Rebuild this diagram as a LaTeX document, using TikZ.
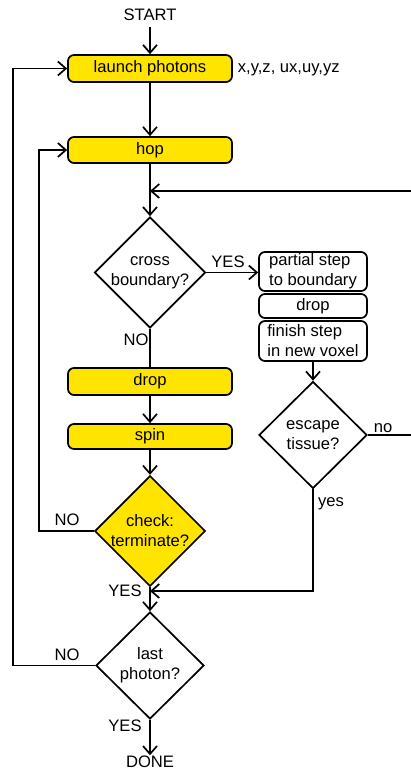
\documentclass[tikz,border=0pt]{standalone}
\usepackage{fontspec}
\setmainfont{Liberation Sans}
\usetikzlibrary{shapes.geometric,arrows.meta}
\definecolor{fcyellow}{RGB}{255,228,0}
\begin{document}
\begin{tikzpicture}[x=1pt,y=-1pt,
  font=\fontsize{16.6}{20}\selectfont,
  line width=1.7pt,
  arr/.style={-{Straight Barb[length=8pt,width=14pt]}},
  ybox/.style={draw,fill=fcyellow,rounded corners=6pt,minimum width=164pt,inner sep=0pt},
  wbox/.style={draw,fill=white,rounded corners=6pt,minimum width=108pt,inner sep=0pt},
  dia/.style={draw,diamond,fill=white,minimum width=108pt,minimum height=107pt,inner sep=0pt,align=center},
  lbl/.style={inner sep=0pt}
]
\useasboundingbox (0,0) rectangle (411,771);
\node[lbl] (start) at (150,15) {START};
\node[ybox,minimum height=27pt] (launch) at (150,68.5) {launch photons};
\node[lbl,anchor=west] (xyz) at (237,70) {x,y,z, ux,uy,yz};
\node[ybox,minimum height=26pt] (hop) at (150,150) {hop};
\node[dia] (cross) at (150,272.5) {cross\\boundary?};
\node[wbox,minimum height=39pt,align=left] (partial) at (313,271.5) {partial step\\to boundary};
\node[wbox,minimum height=24pt] (drop2) at (313,306) {drop};
\node[wbox,minimum height=40pt,align=left] (finish) at (313,341) {finish step\\in new voxel};
\node[dia] (escape) at (313,435) {escape\\tissue?};
\node[ybox,minimum height=27pt] (drop) at (150,381.5) {drop};
\node[ybox,minimum height=25pt] (spin) at (150,436.5) {spin};
\node[dia,fill=fcyellow] (check) at (150,531) {check:\\terminate?};
\node[dia] (last) at (150,665.5) {last\\photon?};
\node[lbl] (done) at (150,762) {DONE};

\coordinate (rin) at (411,191);
\coordinate (rout) at (411,435);
\coordinate (join) at (150,591);

\node[lbl] (lyes1) at (228,262) {YES};
\node[lbl] (lno1) at (136,340) {NO};
\node[lbl] (lno2) at (383,428) {no};
\node[lbl] (lyes2) at (331,504) {yes};
\node[lbl] (lno3) at (67,520) {NO};
\node[lbl] (lyes3) at (125,591) {YES};
\node[lbl] (lno4) at (67,655) {NO};
\node[lbl] (lyes4) at (125,726) {YES};

\draw[arr] (start.south) ++(0,5) -- (launch.north);
\draw[arr] (launch.south) -- (hop.north);
\draw[arr] (hop.south) -- (cross.north);
\draw[arr] (rin) -- (hop.south |- rin);
\draw[arr] (cross.east) -- (partial.west |- cross.east);
\draw (cross.south) -- (drop.north);
\draw[arr] (finish.south) -- (escape.north);
\draw (escape.east) -- (rout);
\draw[arr] (escape.south) |- (join);
\draw[arr] (drop.south) -- (spin.north);
\draw[arr] (spin.south) -- (check.north);
\draw[arr] (check.west) -- ++(-55,0) |- (hop.west);
\draw[arr] (check.south) -- (last.north);
\draw[arr] (last.west) -- ++(-82,0) |- (launch.west);
\draw[arr] (last.south) -- (done.north);
\end{tikzpicture}
\end{document}
